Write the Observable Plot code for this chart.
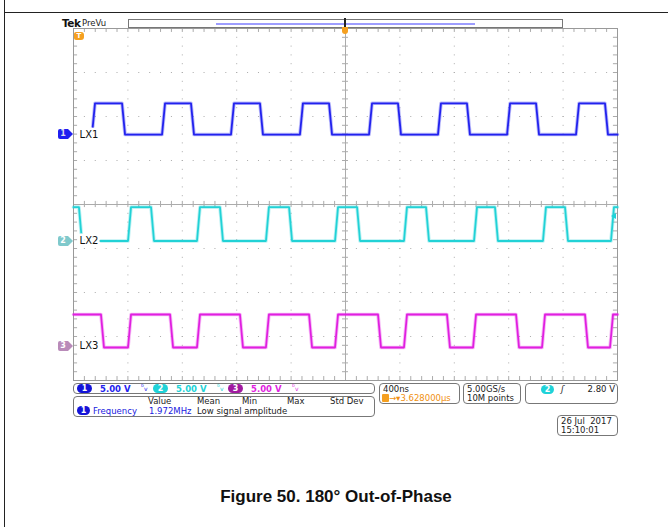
<!DOCTYPE html>
<html><head><meta charset="utf-8">
<script src="https://cdn.jsdelivr.net/npm/d3@7"></script>
<script src="https://cdn.jsdelivr.net/npm/@observablehq/plot@0.6"></script>
<style>
body{margin:0;background:#fff;}
#wrap{position:relative;width:668px;height:527px;overflow:hidden;font-family:"DejaVu Sans",sans-serif;}
#wrap svg{position:absolute;left:0;top:0;}
.abs{position:absolute;}
.box{position:absolute;border:1px solid #777;border-radius:4px;background:#fff;box-sizing:border-box;}
.t{position:absolute;font-size:8.5px;white-space:nowrap;line-height:1;color:#222;}
.oval{position:absolute;height:9px;width:15px;border-radius:5px;color:#fff;font-size:8px;line-height:9px;text-align:center;font-weight:bold;}
</style></head><body><div id="wrap"></div>
<script>
// ---------------- data ----------------
const channels = ["LX1", "LX2", "LX3"];
const channelColors = ["#2222ee", "#22d2d6", "#e01fe0"];
const voltsPerDiv = [5, 5, 5];
const channelPos = [1.59, -0.83, -3.22];          // ground marker position, divisions
// time axis: 400 ns/div, 10 divisions, in μs
const timeDomain = [-2, 2];
// LX1 (blue)
const lx1Start = -1.875, lx1StartLevel = "low";
const lx1Rise = [-1.853, -1.338, -0.831, -0.324, 0.184, 0.691, 1.199, 1.706];
const lx1Fall = [-1.632, -1.125, -0.618, -0.110, 0.397, 0.904, 1.412, 1.919];
const lx1Low = 0.0, lx1High = 3.55;
// LX2 (cyan)
const lx2Start = -2, lx2StartLevel = "high";
const lx2Rise = [-1.588, -1.081, -0.574, -0.066, 0.441, 0.956, 1.463, 1.963];
const lx2Fall = [-1.949, -1.419, -0.912, -0.404, 0.096, 0.603, 1.110, 1.625];
const lx2Low = 0.0, lx2High = 3.85;
// LX3 (magenta)
const lx3Start = -2, lx3StartLevel = "high";
const lx3Rise = [-1.588, -1.081, -0.574, -0.066, 0.441, 0.949, 1.456, 1.956];
const lx3Fall = [-1.787, -1.279, -0.765, -0.257, 0.250, 0.757, 1.265, 1.772];
const lx3Low = -0.15, lx3High = 3.6;
const edgeTime = 0.022; // μs, transition duration
const triggerLevel = 2.8; // V on LX2
// readouts
const chScaleLabels = ["5.00 V", "5.00 V", "5.00 V"];
const measHeaders = ["Value", "Mean", "Min", "Max", "Std Dev"];
const measName = "Frequency", measValue = "1.972MHz", measNote = "Low signal amplitude";
const timebase = "400ns", delay = "3.628000μs", sampleRate = "5.00GS/s", recordLen = "10M points";
const trigLevel = "2.80 V", dateStr = "26 Jul  2017", timeStr = "15:10:01";
const caption = "Figure 50. 180° Out-of-Phase";

// ---------------- build traces ----------------
function buildTrace(ch, start, startLevel, rises, falls, low, high) {
  const ev = [...rises.map(t => ({t, to: "high"})), ...falls.map(t => ({t, to: "low"}))].sort((a, b) => a.t - b.t);
  const lv = s => (s === "high" ? high : low) / voltsPerDiv[ch] + channelPos[ch];
  const pts = [];
  let state = startLevel;
  pts.push({t: start, y: lv(state), ch: channels[ch]});
  for (const e of ev) {
    pts.push({t: Math.max(start, e.t - edgeTime / 2), y: lv(state), ch: channels[ch]});
    state = e.to;
    pts.push({t: Math.min(timeDomain[1], e.t + edgeTime / 2), y: lv(state), ch: channels[ch]});
  }
  pts.push({t: timeDomain[1], y: lv(state), ch: channels[ch]});
  return pts;
}
const traces = [
  ...buildTrace(0, lx1Start, lx1StartLevel, lx1Rise, lx1Fall, lx1Low, lx1High),
  ...buildTrace(1, lx2Start, lx2StartLevel, lx2Rise, lx2Fall, lx2Low, lx2High),
  ...buildTrace(2, lx3Start, lx3StartLevel, lx3Rise, lx3Fall, lx3Low, lx3High)
];

// graticule
const majorX = d3.range(-2, 2.0001, 0.4).map(v => +v.toFixed(3));
const majorY = d3.range(-4, 4.0001, 1);
const minorX = d3.range(-2, 2.0001, 0.08).map(v => +v.toFixed(3));
const minorY = d3.range(-4, 4.0001, 0.2).map(v => +v.toFixed(3));
const inner = a => a.slice(1, -1);
const gridCol = "#ababab";

const labelData = channels.map((c, i) => ({c, y: channelPos[i]}));

const plot = Plot.plot({
  width: 668, height: 527,
  marginTop: 28, marginRight: 51, marginBottom: 147, marginLeft: 73,
  x: {type: "linear", domain: timeDomain, axis: null},
  y: {type: "linear", domain: [-4, 4], axis: null},
  color: {domain: channels, range: channelColors},
  style: {background: "transparent"},
  marks: [
    // dotted grid lines
    Plot.ruleX(inner(majorX).filter(v => v !== 0), {stroke: gridCol, strokeDasharray: "1,7.8"}),
    Plot.ruleY(inner(majorY).filter(v => v !== 0), {stroke: gridCol, strokeDasharray: "1,9.88"}),
    // centre cross with minor ticks
    Plot.ruleX([0], {stroke: gridCol}),
    Plot.ruleY([0], {stroke: gridCol}),
    Plot.ruleX(inner(minorX), {y1: -0.07, y2: 0.07, stroke: gridCol}),
    Plot.ruleY(inner(minorY), {x1: -0.022, x2: 0.022, stroke: gridCol}),
    // ticks along the frame
    Plot.ruleX(inner(minorX), {y1: 4, y2: 3.91, stroke: gridCol}),
    Plot.ruleX(inner(minorX), {y1: -4, y2: -3.91, stroke: gridCol}),
    Plot.ruleY(inner(minorY), {x1: -2, x2: -1.97, stroke: gridCol}),
    Plot.ruleY(inner(minorY), {x1: 2, x2: 1.97, stroke: gridCol}),
    Plot.frame({stroke: "#999"}),
    // waveforms (soft noise band + trace)
    Plot.line(traces, {x: "t", y: "y", z: "ch", stroke: "ch", strokeWidth: 3.6, strokeOpacity: 0.3, strokeLinejoin: "round"}),
    Plot.line(traces, {x: "t", y: "y", z: "ch", stroke: "ch", strokeWidth: 1.8, strokeLinejoin: "round"}),
    // channel labels
    Plot.text(labelData, {x: -1.955, y: "y", text: "c", textAnchor: "start", fill: "#111", stroke: "white", strokeWidth: 5, fontSize: 10, fontFamily: "DejaVu Sans"})
  ]
});
const wrap = document.getElementById("wrap");
wrap.appendChild(plot);
const ys = plot.scale("y"), xs = plot.scale("x");

function add(html) { wrap.insertAdjacentHTML("beforeend", html); }

// outer page frame lines
add(`<div class="abs" style="left:4px;top:0;width:1px;height:527px;background:#222"></div>`);
add(`<div class="abs" style="left:4px;top:12px;width:664px;height:1px;background:#222"></div>`);

// header
add(`<div class="t" style="left:62px;top:18px;font-size:10.5px;font-weight:bold;letter-spacing:-0.5px;color:#111">Tek</div>`);
add(`<div class="t" style="left:82px;top:19px;font-size:8.5px;color:#222">PreVu</div>`);
const x0 = xs.apply(0);
add(`<div class="abs" style="left:128px;top:19px;width:435px;height:9px;border:1px solid #777;box-sizing:border-box"></div>`);
add(`<div class="abs" style="left:216px;top:22.5px;width:259px;height:2px;background:#9d9dff"></div>`);
add(`<div class="abs" style="left:${x0 - 1}px;top:18px;width:2px;height:11px;background:#222"></div>`);
add(`<div class="abs" style="left:${x0 - 3}px;top:27px;width:6px;height:7px;background:#f5a020;border-radius:0 0 3px 3px"></div>`);
// trigger position marker (left)
add(`<div class="abs" style="left:74px;top:32px;width:10px;height:8px;background:#f5a020;border-radius:2px 3px 3px 2px;color:#fff;font-size:7px;line-height:8px;text-align:center;font-weight:bold">T</div>`);
// trigger level marker on right edge (cyan)
add(`<div class="abs" style="left:611px;top:${ys.apply(triggerLevel / voltsPerDiv[1] + channelPos[1]) - 3}px;width:0;height:0;border-top:3px solid transparent;border-bottom:3px solid transparent;border-right:5px solid #1fd2d8"></div>`);

// channel ground markers
const markerBg = ["#1f1ff0", "#7fc9cc", "#b98bb9"];
const markerFg = ["#dde", "#fff", "#fff"];
channels.forEach((c, i) => {
  const y = ys.apply(channelPos[i]);
  add(`<div class="abs" style="left:58px;top:${y - 5}px;width:10px;height:10px;background:${markerBg[i]};border-radius:2px 0 0 2px;color:${markerFg[i]};font-size:8px;line-height:10px;text-align:center;font-weight:bold">${i + 1}</div>`);
  add(`<div class="abs" style="left:68px;top:${y - 5}px;width:0;height:0;border-top:5px solid transparent;border-bottom:5px solid transparent;border-left:5px solid ${markerBg[i]}"></div>`);
});

// bottom readouts
add(`<div class="box" style="left:73px;top:383px;width:302px;height:11px"></div>`);
const ovalCols = ["#1414d8", "#1fd2d8", "#a01aa0"];
const chX = [77, 153, 228];
chScaleLabels.forEach((s, i) => {
  add(`<div class="oval" style="left:${chX[i]}px;top:384px;background:${ovalCols[i]}">${i + 1}</div>`);
  add(`<div class="t" style="left:${chX[i] + 23}px;top:384.5px;color:${channelColors[i]};font-weight:bold">${s}</div>`);
  add(`<div class="t" style="left:${chX[i] + 64}px;top:384px;color:${channelColors[i]};font-size:7px">ᵇ<sub style="font-size:6px">v</sub></div>`);
});
add(`<div class="box" style="left:73px;top:396px;width:302px;height:21px"></div>`);
const hdrX = [148, 197, 242, 287, 330];
measHeaders.forEach((h, i) => add(`<div class="t" style="left:${hdrX[i]}px;top:397px">${h}</div>`));
add(`<div class="oval" style="left:77px;top:406px;background:#1414d8;width:13px">1</div>`);
add(`<div class="t" style="left:93px;top:406.5px;color:#2020e0">${measName}</div>`);
add(`<div class="t" style="left:149px;top:406.5px;color:#2020e0">${measValue}</div>`);
add(`<div class="t" style="left:197px;top:406.5px">${measNote}</div>`);

add(`<div class="box" style="left:379px;top:383px;width:81px;height:21px"></div>`);
add(`<div class="t" style="left:383px;top:385px">${timebase}</div>`);
add(`<div class="abs" style="left:382px;top:394px;width:7px;height:8px;background:#f5a020;border-radius:1px"></div>`);
add(`<div class="t" style="left:389px;top:394px;color:#f09010">→▾${delay}</div>`);
add(`<div class="box" style="left:463px;top:383px;width:58px;height:21px"></div>`);
add(`<div class="t" style="left:467px;top:385px">${sampleRate}</div>`);
add(`<div class="t" style="left:467px;top:394px">${recordLen}</div>`);
add(`<div class="box" style="left:525px;top:383px;width:93px;height:21px"></div>`);
add(`<div class="oval" style="left:541px;top:385px;background:#1fd2d8;width:13px">2</div>`);
add(`<div class="t" style="left:561px;top:385px;font-style:italic">ʃ</div>`);
add(`<div class="t" style="left:585px;top:385px;width:30px;text-align:right">${trigLevel}</div>`);
add(`<div class="box" style="left:557px;top:415px;width:61px;height:21px"></div>`);
add(`<div class="t" style="left:561px;top:417px;white-space:pre">${dateStr}</div>`);
add(`<div class="t" style="left:561px;top:426px">${timeStr}</div>`);

// caption
add(`<div class="abs" style="left:4px;width:664px;top:487px;text-align:center;font-family:'Liberation Sans',Arial,sans-serif;font-weight:bold;font-size:17px;color:#111">${caption}</div>`);
</script></body></html>
